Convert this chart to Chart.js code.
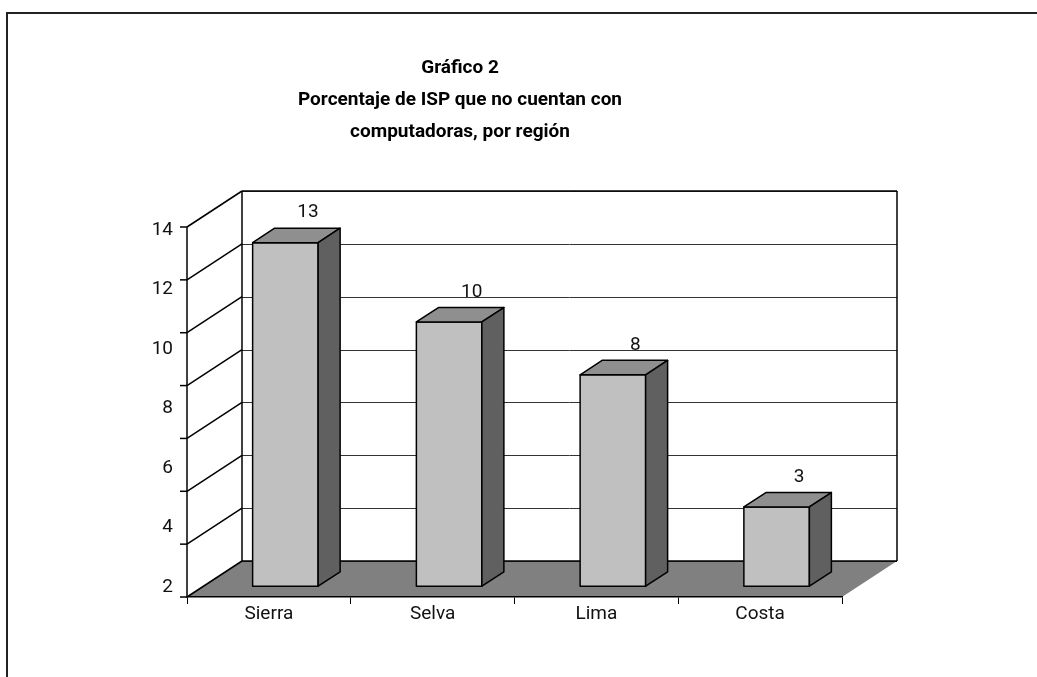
<!DOCTYPE html>
<html>
<head>
<meta charset="utf-8">
<script src="https://cdn.jsdelivr.net/npm/chart.js@4.4.0/dist/chart.umd.min.js"></script>
<style>
  html, body { margin: 0; padding: 0; background: #fff; }
  canvas { display: block; }
</style>
</head>
<body>
<canvas id="chart" width="1037" height="677"></canvas>
<script>
const titleLines = ['Gráfico 2', 'Porcentaje de ISP que no cuentan con', 'computadoras, por región'];
const regions = ['Sierra', 'Selva', 'Lima', 'Costa'];
const percentages = [13, 10, 8, 3];
// labels as printed on the left side; they do not sit on the grid lines
const axisLabels = [14, 12, 10, 8, 6, 4, 2];
const gridValues = [0, 2, 4, 6, 8, 10, 12, 14];

const FONT = 'Roboto, "Liberation Sans", Arial, sans-serif';
const DEPTH = { x: 55, y: -36 };        // front plane -> back wall
const BAR_FRONT = 0.3, BAR_BACK = 0.7;   // where the bars sit in the depth

function line(ctx, x1, y1, x2, y2) {
  ctx.beginPath();
  ctx.moveTo(x1, y1);
  ctx.lineTo(x2, y2);
  ctx.stroke();
}

const box3d = {
  id: 'box3d',
  beforeDraw(chart) {
    const { ctx, chartArea: a, scales } = chart;
    const y = scales.y;
    const dx = DEPTH.x, dy = DEPTH.y;
    ctx.save();
    ctx.fillStyle = '#fff';
    ctx.fillRect(0, 0, chart.width, chart.height);

    // outer frame (only top and left show)
    ctx.strokeStyle = '#222';
    ctx.lineWidth = 2;
    ctx.beginPath();
    ctx.moveTo(7, 677);
    ctx.lineTo(7, 13);
    ctx.lineTo(1037, 13);
    ctx.stroke();

    // title
    ctx.fillStyle = '#000';
    ctx.font = 'bold 19px ' + FONT;
    ctx.textAlign = 'center';
    ctx.textBaseline = 'alphabetic';
    titleLines.forEach((t, i) => ctx.fillText(t, 460, 73 + i * 32));

    // floor
    ctx.fillStyle = '#808080';
    ctx.beginPath();
    ctx.moveTo(a.left, a.bottom);
    ctx.lineTo(a.right, a.bottom);
    ctx.lineTo(a.right + dx, a.bottom + dy);
    ctx.lineTo(a.left + dx, a.bottom + dy);
    ctx.closePath();
    ctx.fill();

    // back wall grid lines
    ctx.strokeStyle = '#333';
    ctx.lineWidth = 1;
    gridValues.forEach(v => {
      const yy = Math.round(y.getPixelForValue(v) + dy) + 0.5;
      line(ctx, a.left + dx, yy, a.right + dx, yy);
    });

    // left wall diagonals and front ticks
    ctx.strokeStyle = '#000';
    ctx.lineWidth = 1.5;
    gridValues.forEach(v => {
      const yy = y.getPixelForValue(v);
      line(ctx, a.left, yy, a.left + dx, yy + dy);
      line(ctx, a.left - 7, yy, a.left, yy);
    });
    const top = y.getPixelForValue(14), bot = y.getPixelForValue(0);
    line(ctx, a.left, top, a.left, bot);
    line(ctx, a.left + dx, top + dy, a.left + dx, bot + dy);
    line(ctx, a.right + dx, top + dy, a.right + dx, bot + dy);
    line(ctx, a.left + dx, top + dy, a.right + dx, top + dy);
    line(ctx, a.left + dx, bot + dy, a.right + dx, bot + dy);
    ctx.restore();
  },
  afterDatasetsDraw(chart) {
    const { ctx } = chart;
    const meta = chart.getDatasetMeta(0);
    const fx = DEPTH.x * BAR_FRONT, fy = DEPTH.y * BAR_FRONT;
    const sx = DEPTH.x * (BAR_BACK - BAR_FRONT), sy = DEPTH.y * (BAR_BACK - BAR_FRONT);
    ctx.save();
    ctx.strokeStyle = '#000';
    ctx.lineWidth = 1.5;
    ctx.lineJoin = 'round';
    meta.data.forEach((bar, i) => {
      const l = bar.x - bar.width / 2 + fx, r = bar.x + bar.width / 2 + fx;
      const t = bar.y + fy, b = bar.base + fy;
      // front
      ctx.fillStyle = '#c0c0c0';
      ctx.beginPath();
      ctx.rect(l, t, r - l, b - t);
      ctx.fill();
      ctx.stroke();
      // top
      ctx.fillStyle = '#8f8f8f';
      ctx.beginPath();
      ctx.moveTo(l, t);
      ctx.lineTo(r, t);
      ctx.lineTo(r + sx, t + sy);
      ctx.lineTo(l + sx, t + sy);
      ctx.closePath();
      ctx.fill();
      ctx.stroke();
      // side
      ctx.fillStyle = '#606060';
      ctx.beginPath();
      ctx.moveTo(r, t);
      ctx.lineTo(r + sx, t + sy);
      ctx.lineTo(r + sx, b + sy);
      ctx.lineTo(r, b);
      ctx.closePath();
      ctx.fill();
      ctx.stroke();
      // value label
      ctx.fillStyle = '#111';
      ctx.font = '19px ' + FONT;
      ctx.textAlign = 'center';
      ctx.textBaseline = 'middle';
      ctx.fillText(String(percentages[i]), bar.x + 39, t - 30);
    });
    ctx.restore();
  }
};

new Chart(document.getElementById('chart'), {
  type: 'bar',
  data: {
    labels: regions,
    datasets: [{
      data: percentages,
      backgroundColor: 'rgba(0,0,0,0)',
      borderWidth: 0,
      categoryPercentage: 1,
      barPercentage: 0.4
    }]
  },
  options: {
    responsive: false,
    animation: false,
    events: [],
    layout: { padding: { left: 127, right: 195, top: 227, bottom: 30 } },
    plugins: {
      legend: { display: false },
      title: { display: false },
      tooltip: { enabled: false }
    },
    scales: {
      x: {
        grid: { drawOnChartArea: false, drawTicks: true, tickLength: 7, offset: true, color: '#000', lineWidth: 1 },
        border: { display: true, color: '#000', width: 1.5 },
        ticks: { color: '#111', font: { family: FONT, size: 19 }, padding: -1 },
        afterFit(axis) { axis.height = 50; }
      },
      y: { display: false, min: 0, max: 14 },
      yLabels: {
        type: 'linear',
        position: 'left',
        min: 1.664,
        max: 14.10,
        grid: { display: false, drawTicks: false },
        border: { display: false },
        ticks: { color: '#111', font: { family: FONT, size: 19 }, padding: 14 },
        afterBuildTicks(axis) { axis.ticks = axisLabels.map(v => ({ value: v })); },
        afterFit(axis) { axis.width = 60; }
      }
    }
  },
  plugins: [box3d]
});
</script>
</body>
</html>
